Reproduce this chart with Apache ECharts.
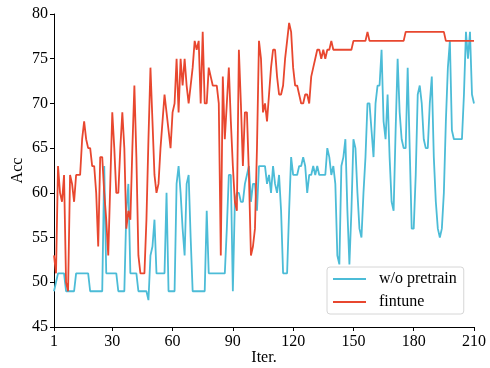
<!DOCTYPE html>
<html>
<head>
<meta charset="utf-8">
<script src="https://cdn.jsdelivr.net/npm/echarts@6/dist/echarts.min.js"></script>
<style>html,body{margin:0;padding:0;background:#fff}#c{width:490px;height:368px}</style>
</head>
<body>
<div id="c"></div>
<script>
const xTicks = [1, 30, 60, 90, 120, 150, 180, 210];
const seriesNames = ['w/o pretrain', 'fintune'];
const woPretrain = [
49,50,51,51,51,51,49,49,49,49,
49,51,51,51,51,51,51,51,49,49,
49,49,49,49,49,63,51,51,51,51,
51,51,49,49,49,49,58,61,51,51,
51,51,49,49,49,49,49,48,53,54,
57,51,51,51,51,51,60,49,49,49,
49,61,63,60,56,53,61,62,55,49,
49,49,49,49,49,49,58,51,51,51,
51,51,51,51,51,51,56,62,62,49,
59,60,60,59,59,61,62,63,59,61,
61,58,63,63,63,63,61,62,60,63,
61,60,62,58,51,51,51,58,64,62,
62,62,63,63,64,63,60,62,62,63,
62,63,62,62,62,62,65,64,62,63,
61,53,52,63,64,66,58,52,58,66,
65,60,56,55,60,64,70,70,67,64,
70,72,72,76,68,66,71,64,59,58,
67,75,69,66,65,65,74,65,56,56,
62,71,72,70,66,65,65,70,73,64,
59,56,55,56,60,68,74,77,67,66,
66,66,66,66,71,78,75,78,71,70
];
const fintune = [
53,51,63,60,59,62,50,49,62,61,
59,62,62,62,66,68,66,65,65,63,
63,60,54,64,64,60,57,53,61,69,
65,60,60,65,69,65,56,58,57,65,
72,64,53,51,51,51,57,66,74,68,
62,60,61,65,68,71,69,67,65,69,
70,75,69,75,72,75,72,70,72,74,
77,76,77,70,78,70,70,74,73,72,
72,72,70,53,73,66,70,74,68,63,
59,58,76,70,63,69,69,62,53,54,
56,65,77,75,69,70,68,71,74,76,
76,73,71,71,72,75,77,79,78,74,
72,72,71,70,70,71,71,70,73,74,
75,76,76,75,76,75,76,76,77,76,
76,76,76,76,76,76,76,76,76,77,
77,77,77,77,77,77,78,77,77,77,
77,77,77,77,77,77,77,77,77,77,
77,77,77,77,77,78,78,78,78,78,
78,78,78,78,78,78,78,78,78,78,
78,78,78,78,78,77,77,77,77,77,
77,77,77,77,77,77,77,77,77,77
];
const iters = woPretrain.map((_, i) => i + 1);

const font = 'Liberation Serif, Times New Roman, serif';
const chart = echarts.init(document.getElementById('c'), null, {renderer: 'canvas'});
chart.setOption({
  animation: false,
  backgroundColor: '#fff',
  grid: {left: 54, right: 16, top: 14, bottom: 41, containLabel: false, outerBoundsMode: 'none'},
  xAxis: {
    type: 'value', min: 1, max: 210,
    name: 'Iter.', nameLocation: 'middle', nameGap: 23, nameMoveOverlap: false,
    nameTextStyle: {fontFamily: font, fontSize: 16, color: '#000'},
    axisLine: {show: true, lineStyle: {color: '#000', width: 1}},
    axisTick: {show: true, length: 4, lineStyle: {color: '#000'}, customValues: xTicks},
    axisLabel: {fontFamily: font, fontSize: 16, color: '#000', margin: 7, customValues: xTicks},
    splitLine: {show: false}
  },
  yAxis: {
    type: 'value', min: 45, max: 80, interval: 5,
    name: 'Acc', nameLocation: 'middle', nameGap: 28, nameRotate: 90, nameMoveOverlap: false,
    nameTextStyle: {fontFamily: font, fontSize: 16, color: '#000'},
    axisLine: {show: true, lineStyle: {color: '#000', width: 1}},
    axisTick: {show: true, length: 4, lineStyle: {color: '#000'}},
    axisLabel: {fontFamily: font, fontSize: 16, color: '#000', margin: 6},
    splitLine: {show: false}
  },
  legend: {
    orient: 'vertical', left: 327, top: 267,
    data: seriesNames,
    icon: 'rect', itemWidth: 33, itemHeight: 2, itemGap: 7,
    padding: [4, 7, 4, 6],
    backgroundColor: '#fff', borderColor: '#d6d6d6', borderWidth: 1, borderRadius: 3,
    textStyle: {fontFamily: font, fontSize: 16, color: '#000', lineHeight: 16, padding: [0, 0, 0, 8]}
  },
  series: [
    {name: seriesNames[0], type: 'line', data: iters.map((x, i) => [x, woPretrain[i]]),
     showSymbol: false, symbol: 'none', lineStyle: {color: '#4cbcd7', width: 1.8}, itemStyle: {color: '#4cbcd7'}, z: 2},
    {name: seriesNames[1], type: 'line', data: iters.map((x, i) => [x, fintune[i]]),
     showSymbol: false, symbol: 'none', lineStyle: {color: '#e8472f', width: 1.8}, itemStyle: {color: '#e8472f'}, z: 3}
  ]
});
</script>
</body>
</html>
